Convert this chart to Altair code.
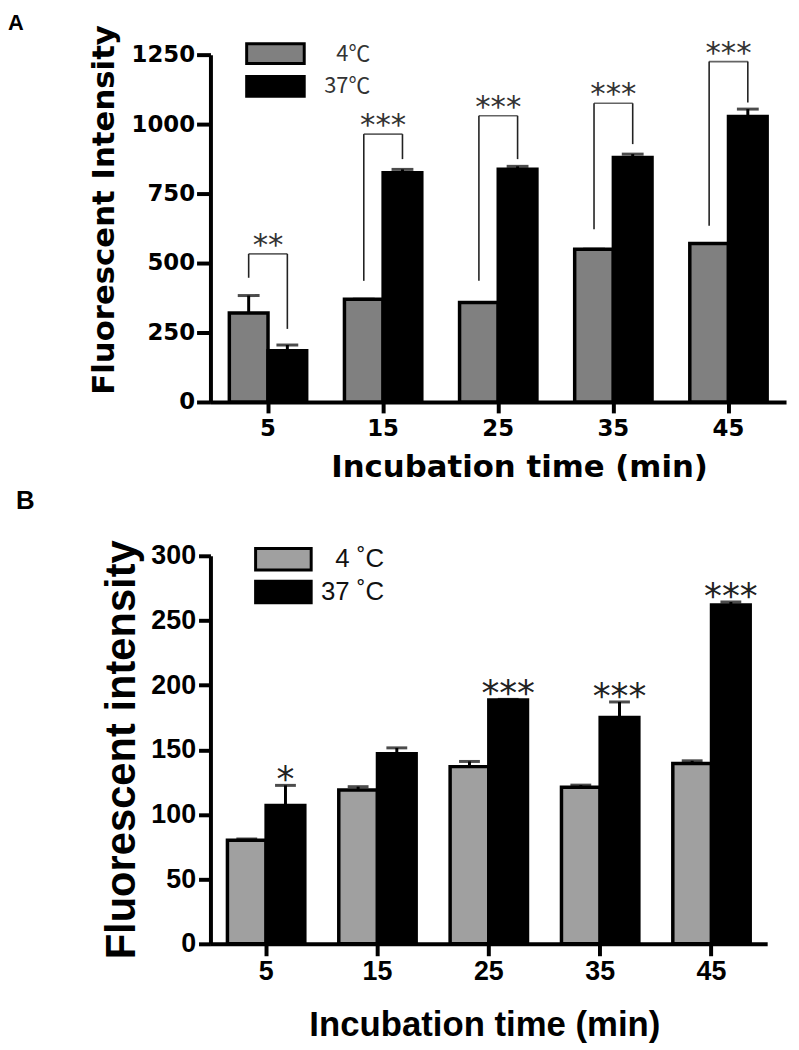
import altair as alt
import pandas as pd

times = ["5", "15", "25", "35", "45"]

# Panel A
a_labels = ["4℃", "37℃"]
a_cold = [320, 370, 358, 550, 570]
a_cold_err = [63, 0, 0, 0, 0]
a_warm = [184, 825, 838, 880, 1027]
a_warm_err = [21, 12, 10, 12, 27]
a_stars = ["**", "***", "***", "***", "***"]
a_bracket_top = [533, 964, 1030, 1075, 1225]
a_left_leg = [447, 436, 436, 622, 634]
a_right_leg = [263, 874, 874, 928, 1078]

# Panel B
b_labels = ["4 ˚C", "37 ˚C"]
b_cold = [80, 119, 137, 121, 139.5]
b_cold_err = [1, 2.5, 4, 1.7, 2]
b_warm = [107, 147, 188.5, 175, 262]
b_warm_err = [15.5, 4.5, 0.5, 12, 2.3]
b_stars = ["*", "", "***", "***", "***"]


def bars_df(labels, cold, cold_err, warm, warm_err):
    rows = []
    for i, t in enumerate(times):
        rows.append({"time": t, "temp": labels[0], "value": cold[i], "top": cold[i] + cold_err[i]})
        rows.append({"time": t, "temp": labels[1], "value": warm[i], "top": warm[i] + warm_err[i]})
    return pd.DataFrame(rows)


# ---------------- Panel A ----------------
dfA = bars_df(a_labels, a_cold, a_cold_err, a_warm, a_warm_err)
legsA = pd.DataFrame(
    [{"time": t, "temp": a_labels[0], "bottom": a_left_leg[i], "top": a_bracket_top[i]} for i, t in enumerate(times)]
    + [{"time": t, "temp": a_labels[1], "bottom": a_right_leg[i], "top": a_bracket_top[i]} for i, t in enumerate(times)]
)
topsA = pd.DataFrame({"time": times, "top": a_bracket_top, "stars": a_stars})

fontA = "DejaVu Sans"
xAxisA = alt.Axis(
    title="Incubation time (min)", labelAngle=0, labelFont=fontA, labelFontSize=23, labelFontWeight="bold",
    labelColor="black", labelPadding=5, tickSize=11, tickWidth=4, tickColor="black", domainWidth=4,
    domainColor="black", titleFont=fontA, titleFontSize=31, titleFontWeight="bold", titleColor="black",
    titleX=311, titleY=75, titleAlign="center", titleBaseline="alphabetic",
)
yAxisA = alt.Axis(
    title="Fluorescent Intensity", values=[0, 250, 500, 750, 1000, 1250], format="d", labelFont=fontA,
    labelFontSize=23, labelFontWeight="bold", labelColor="black", labelPadding=2, tickSize=14, tickWidth=4,
    tickColor="black", domainWidth=4, domainColor="black", grid=False, titleFont=fontA, titleFontSize=31,
    titleFontWeight="bold", titleColor="black", titleAngle=-90, titleX=-107, titleY=156, titleAlign="center",
    titleBaseline="middle",
)
xA = alt.X("time:N", sort=times, scale=alt.Scale(paddingInner=0.328, paddingOuter=0.164), axis=xAxisA)
xoA = alt.XOffset("temp:N", sort=a_labels, scale=alt.Scale(domain=a_labels, paddingInner=0, paddingOuter=0))
yscaleA = alt.Scale(domain=[0, 1250], nice=False)

barsA = alt.Chart(dfA).mark_bar(stroke="black", strokeWidth=3.5).encode(
    x=xA, xOffset=xoA,
    y=alt.Y("value:Q", scale=yscaleA, axis=yAxisA),
    fill=alt.Fill("temp:N", sort=a_labels, scale=alt.Scale(domain=a_labels, range=["#808080", "#000000"]),
                  legend=alt.Legend(orient="none", legendX=49.5, legendY=-17, title=None,
                                    symbolType="M-2,-0.69H2V0.69H-2Z", symbolSize=841,
                                    symbolStrokeColor="black", symbolStrokeWidth=3, symbolOpacity=1,
                                    labelFont="Noto Sans CJK KR", labelFontSize=22, labelColor="#333",
                                    labelAlign="right", labelOffset=79.5, rowPadding=-6, padding=0)),
)
errA = alt.Chart(dfA).mark_rule(color="black", strokeWidth=3).encode(
    x=xA, xOffset=xoA, y=alt.Y("value:Q", scale=yscaleA, axis=yAxisA), y2="top:Q")
capA = alt.Chart(dfA).mark_tick(color="black", thickness=3, size=22, orient="horizontal").encode(
    x=xA, xOffset=xoA, y=alt.Y("top:Q", scale=yscaleA, axis=yAxisA))
legA = alt.Chart(legsA).mark_rule(color="#222", strokeWidth=1.6).encode(
    x=xA, xOffset=xoA, y=alt.Y("bottom:Q", scale=yscaleA, axis=yAxisA), y2="top:Q")
brA = alt.Chart(topsA).mark_tick(color="#222", thickness=1.6, size=39, orient="horizontal").encode(
    x=xA, y=alt.Y("top:Q", scale=yscaleA, axis=yAxisA))
starA = alt.Chart(topsA).mark_text(font="DejaVu Sans", fontSize=31, color="#333", baseline="alphabetic", dy=1).encode(
    x=xA, y=alt.Y("top:Q", scale=yscaleA, axis=yAxisA), text="stars:N")
labA = alt.Chart(pd.DataFrame({"t": ["A"]})).mark_text(
    font="Liberation Sans", fontWeight="bold", fontSize=22, align="left", baseline="alphabetic", color="black"
).encode(x=alt.value(-204), y=alt.value(-25), text="t:N")

chartA = alt.layer(barsA, errA, capA, legA, brA, starA, labA).properties(width=580, height=350)

# ---------------- Panel B ----------------
dfB = bars_df(b_labels, b_cold, b_cold_err, b_warm, b_warm_err)
dfB["stars"] = [s for i in range(len(times)) for s in ("", b_stars[i])]

fontB = "Liberation Sans"
xAxisB = alt.Axis(
    title="Incubation time (min)", labelAngle=0, labelFont=fontB, labelFontSize=27, labelFontWeight="bold",
    labelColor="black", labelPadding=3, tickSize=12, tickWidth=4, tickColor="black", domainWidth=4,
    domainColor="black", titleFont=fontB, titleFontSize=35, titleFontWeight="bold", titleColor="black",
    titleX=276, titleY=92, titleAlign="center", titleBaseline="alphabetic",
)
yAxisB = alt.Axis(
    title="Fluorescent intensity", values=[0, 50, 100, 150, 200, 250, 300], format="d", labelFont=fontB,
    labelFontSize=27, labelFontWeight="bold", labelColor="black", labelPadding=3, tickSize=12, tickWidth=4,
    tickColor="black", domainWidth=4, domainColor="black", grid=False, titleFont=fontB, titleFontSize=42,
    titleFontWeight="bold", titleColor="black", titleAngle=-90, titleX=-90, titleY=195, titleAlign="center",
    titleBaseline="middle",
)
xB = alt.X("time:N", sort=times, scale=alt.Scale(paddingInner=0.305, paddingOuter=0.1525), axis=xAxisB)
xoB = alt.XOffset("temp:N", sort=b_labels, scale=alt.Scale(domain=b_labels, paddingInner=0, paddingOuter=0))
yscaleB = alt.Scale(domain=[0, 300], nice=False)

barsB = alt.Chart(dfB).mark_bar(stroke="black", strokeWidth=3.5).encode(
    x=xB, xOffset=xoB,
    y=alt.Y("value:Q", scale=yscaleB, axis=yAxisB),
    fill=alt.Fill("temp:N", sort=b_labels, scale=alt.Scale(domain=b_labels, range=["#a0a0a0", "#000000"]),
                  legend=alt.Legend(orient="none", legendX=58, legendY=-12, title=None,
                                    symbolType="M-2,-0.78H2V0.78H-2Z", symbolSize=784,
                                    symbolStrokeColor="black", symbolStrokeWidth=3, symbolOpacity=1,
                                    labelFont=fontB, labelFontSize=26, labelColor="#111",
                                    labelAlign="right", labelOffset=86, rowPadding=-3, padding=0)),
)
errB = alt.Chart(dfB).mark_rule(color="black", strokeWidth=3).encode(
    x=xB, xOffset=xoB, y=alt.Y("value:Q", scale=yscaleB, axis=yAxisB), y2="top:Q")
capB = alt.Chart(dfB).mark_tick(color="black", thickness=3, size=21, orient="horizontal").encode(
    x=xB, xOffset=xoB, y=alt.Y("top:Q", scale=yscaleB, axis=yAxisB))
starB = alt.Chart(dfB).mark_text(font="DejaVu Sans", fontSize=36, color="#222", baseline="alphabetic", dy=6).encode(
    x=xB, xOffset=xoB, y=alt.Y("top:Q", scale=yscaleB, axis=yAxisB), text="stars:N")
labB = alt.Chart(pd.DataFrame({"t": ["B"]})).mark_text(
    font="Liberation Sans", fontWeight="bold", fontSize=26, align="left", baseline="alphabetic", color="black"
).encode(x=alt.value(-196), y=alt.value(-47), text="t:N")

chartB = alt.layer(barsB, errB, capB, starB, labB).properties(width=561, height=391)

chart = alt.vconcat(chartA, chartB, spacing=6).resolve_scale(
    x="independent", xOffset="independent", y="independent", fill="independent"
).resolve_legend(fill="independent").properties(
    padding={"left": 0, "top": 0, "right": 5, "bottom": 5}
).configure_view(stroke=None)

chart.save("out.html", embed_options={"renderer": "svg", "actions": False})
